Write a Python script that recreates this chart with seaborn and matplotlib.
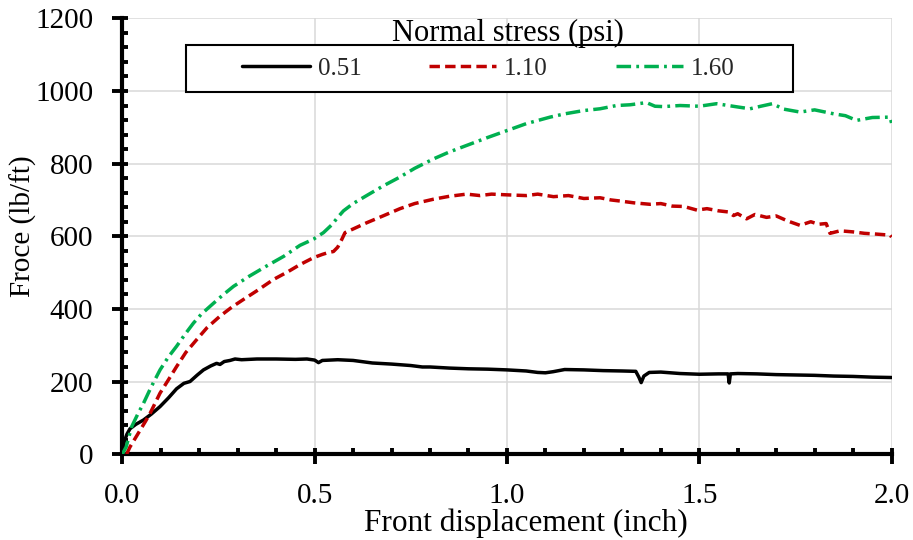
import matplotlib
matplotlib.use("Agg")
import matplotlib.pyplot as plt
from matplotlib.ticker import MultipleLocator, FormatStrFormatter
from matplotlib.patches import Rectangle
import seaborn as sns
import pandas as pd

# ---- data ----
x_051 = [0.000, 0.005, 0.012, 0.020, 0.035, 0.055, 0.075, 0.098, 0.120, 0.141, 0.160, 0.176,
         0.195, 0.211, 0.230, 0.245, 0.254, 0.265, 0.280, 0.293, 0.31, 0.35, 0.40, 0.45, 0.48,
         0.50, 0.51, 0.52, 0.56, 0.60, 0.65, 0.70, 0.75, 0.78, 0.80, 0.85, 0.90, 0.95, 1.00,
         1.05, 1.08, 1.10, 1.12, 1.15, 1.20, 1.25, 1.30, 1.335, 1.343, 1.349, 1.356, 1.37,
         1.40, 1.45, 1.50, 1.55, 1.575, 1.578, 1.581, 1.60, 1.65, 1.70, 1.75, 1.80, 1.85,
         1.90, 1.95, 2.00]
y_051 = [0, 35, 55, 70, 82, 94, 110, 131, 155, 180, 195, 200,
         218, 232, 243, 250, 247, 255, 258, 262, 260, 262, 262, 261, 262,
         259, 252, 258, 260, 258, 251, 248, 244, 240, 240, 237, 235, 234, 232,
         229, 225, 224, 227, 233, 232, 230, 229, 228, 212, 197, 215, 225,
         226, 222, 220, 221, 221, 196, 221, 222, 221, 219, 218, 217, 215,
         214, 212, 211]

x_110 = [0.011, 0.02, 0.04, 0.06, 0.072, 0.085, 0.098, 0.12, 0.141, 0.165, 0.193, 0.22, 0.254,
         0.285, 0.315, 0.35, 0.393, 0.43, 0.462, 0.497, 0.52, 0.535, 0.549, 0.56, 0.57, 0.579,
         0.60, 0.635, 0.68, 0.722, 0.76, 0.809, 0.85, 0.895, 0.93, 0.96, 1.0, 1.05, 1.08,
         1.121, 1.16, 1.20, 1.242, 1.27, 1.294, 1.33, 1.372, 1.40, 1.43, 1.46, 1.494, 1.52,
         1.55, 1.575, 1.589, 1.60, 1.623, 1.645, 1.675, 1.70, 1.73, 1.762, 1.79, 1.81, 1.83,
         1.84, 1.866, 1.90, 1.93, 1.96, 1.996, 2.0]
y_110 = [0, 20, 55, 90, 112, 140, 168, 205, 241, 280, 315, 348, 380,
         405, 426, 450, 481, 502, 522, 541, 550, 555, 558, 570, 590, 610,
         620, 637, 657, 676, 690, 702, 710, 716, 712, 716, 714, 712, 716,
         709, 712, 704, 706, 700, 697, 692, 688, 690, 683, 682, 672, 676,
         670, 667, 657, 662, 648, 660, 652, 656, 642, 630, 640, 633, 635,
         608, 615, 612, 608, 606, 603, 598]

x_160 = [0.0, 0.01, 0.024, 0.04, 0.055, 0.075, 0.098, 0.12, 0.141, 0.163, 0.185, 0.205, 0.228,
         0.26, 0.289, 0.33, 0.375, 0.42, 0.462, 0.497, 0.523, 0.545, 0.56, 0.575, 0.60, 0.64,
         0.679, 0.72, 0.76, 0.809, 0.85, 0.895, 0.95, 1.0, 1.05, 1.112, 1.15, 1.199, 1.242,
         1.285, 1.32, 1.363, 1.385, 1.407, 1.45, 1.50, 1.545, 1.60, 1.632, 1.66, 1.69, 1.72,
         1.762, 1.80, 1.85, 1.88, 1.909, 1.95, 1.996, 2.0]
y_160 = [0, 20, 75, 110, 140, 185, 232, 268, 297, 330, 361, 385, 407,
         437, 462, 490, 518, 545, 575, 592, 610, 632, 652, 670, 690, 715,
         739, 762, 787, 813, 832, 850, 872, 891, 910, 928, 937, 946, 951,
         960, 962, 968, 958, 957, 960, 958, 965, 956, 951, 958, 965, 950,
         942, 948, 937, 932, 919, 927, 928, 912]

series_labels = ["0.51", "1.10", "1.60"]
x_ticks = [0.0, 0.5, 1.0, 1.5, 2.0]
y_ticks = [0, 200, 400, 600, 800, 1000, 1200]

df = pd.concat([
    pd.DataFrame({"x": x_051, "y": y_051, "s": series_labels[0]}),
    pd.DataFrame({"x": x_110, "y": y_110, "s": series_labels[1]}),
    pd.DataFrame({"x": x_160, "y": y_160, "s": series_labels[2]}),
], ignore_index=True)

sns.set_theme(style="white")
plt.rcParams["font.family"] = ["Liberation Serif", "DejaVu Serif"]

fig = plt.figure(figsize=(9.13, 5.40), dpi=100)
ax = fig.add_axes([0.134, 0.159, 0.8425, 0.807])

palette = {"0.51": "#000000", "1.10": "#C00000", "1.60": "#00B050"}
dashes = {"0.51": "", "1.10": (3.0, 1.5), "1.60": (4.2, 1.5, 0.8, 1.5)}
sns.lineplot(data=df, x="x", y="y", hue="s", style="s", palette=palette, dashes=dashes,
             sort=False, estimator=None, linewidth=2.5, ax=ax, legend=True, zorder=3)

ax.set_xlim(0, 2.0)
ax.set_ylim(0, 1200)
ax.set_xticks(x_ticks)
ax.set_yticks(y_ticks)
ax.xaxis.set_major_formatter(FormatStrFormatter("%.1f"))
ax.xaxis.set_minor_locator(MultipleLocator(0.1))
ax.yaxis.set_minor_locator(MultipleLocator(40))
ax.xaxis.remove_overlapping_locs = False
ax.yaxis.remove_overlapping_locs = False

ax.grid(True, which="major", color="#d9d9d9", linewidth=1.1, zorder=0)
ax.set_axisbelow(True)
for side in ["top", "right"]:
    ax.spines[side].set_visible(False)
for side in ["left", "bottom"]:
    ax.spines[side].set_linewidth(3.0)
    ax.spines[side].set_color("black")

ax.tick_params(which="major", direction="out", length=7, width=2.8, color="black",
               labelsize=21, pad=14, labelcolor="black")
ax.tick_params(which="minor", direction="in", length=4, width=2.8, color="black")
ax.tick_params(axis="x", which="both", bottom=True)
ax.tick_params(axis="y", which="both", left=True)

ax.set_xlabel("Front displacement (inch)", fontsize=22.5, color="black")
ax.set_ylabel("Froce (lb/ft)", fontsize=21, color="black")
ax.xaxis.set_label_coords(0.525, -0.124)
ax.yaxis.set_label_coords(-0.111, 0.523)

# legend
handles, labels = ax.get_legend_handles_labels()
if ax.legend_:
    ax.legend_.remove()
box = Rectangle((0.0828, 0.831), 0.789, 0.108, transform=ax.transAxes,
                facecolor="white", edgecolor="black", linewidth=1.5, zorder=5)
ax.add_patch(box)
leg = ax.legend(handles, labels, ncol=3, loc="center", bbox_to_anchor=(0.476, 0.885),
                frameon=False, fontsize=18, handlelength=2.7, handletextpad=0.32,
                columnspacing=2.7, borderaxespad=0)
leg.set_zorder(6)
ax.text(0.501, 0.966, "Normal stress (psi)", transform=ax.transAxes, ha="center",
        va="center", fontsize=22, color="black", zorder=6)

fig.savefig("out.png", dpi=100)
